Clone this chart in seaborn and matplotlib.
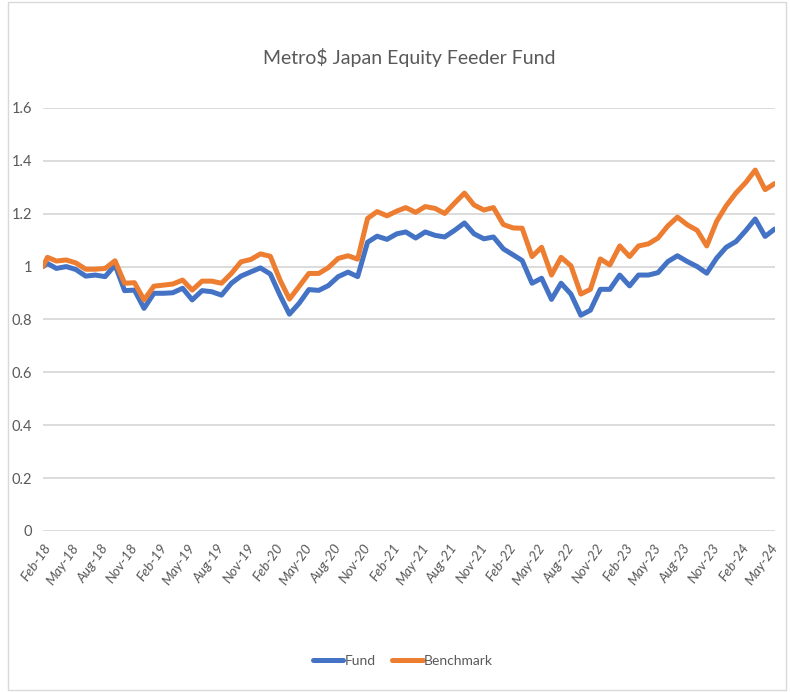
import pandas as pd
import matplotlib
matplotlib.use("Agg")
import matplotlib.pyplot as plt
import matplotlib.dates as mdates
import seaborn as sns

# month-by-month values (first point = launch at 1.0)
fund = [1.000,
        1.012, 0.993, 1.000, 0.989, 0.964, 0.968, 0.962, 1.006, 0.909, 0.911, 0.842, 0.899,
        0.899, 0.901, 0.918, 0.874, 0.909, 0.905, 0.892, 0.937, 0.964, 0.980, 0.995, 0.972,
        0.890, 0.820, 0.862, 0.913, 0.910, 0.928, 0.962, 0.979, 0.962, 1.092, 1.115, 1.103,
        1.124, 1.131, 1.108, 1.131, 1.118, 1.112, 1.137, 1.165, 1.124, 1.105, 1.112, 1.067,
        1.044, 1.023, 0.937, 0.956, 0.876, 0.937, 0.896, 0.816, 0.835, 0.914, 0.914, 0.968,
        0.927, 0.968, 0.968, 0.977, 1.019, 1.041, 1.019, 1.000, 0.975, 1.032, 1.073, 1.095,
        1.137, 1.180, 1.114, 1.142]
benchmark = [1.000,
             1.035, 1.021, 1.025, 1.014, 0.990, 0.990, 0.993, 1.022, 0.937, 0.939, 0.874, 0.926,
             0.930, 0.934, 0.949, 0.911, 0.945, 0.945, 0.937, 0.974, 1.018, 1.027, 1.048, 1.039,
             0.948, 0.877, 0.926, 0.974, 0.974, 0.996, 1.031, 1.041, 1.028, 1.182, 1.208, 1.192,
             1.210, 1.223, 1.205, 1.227, 1.220, 1.201, 1.240, 1.278, 1.233, 1.214, 1.223, 1.159,
             1.146, 1.145, 1.038, 1.073, 0.968, 1.035, 1.003, 0.896, 0.914, 1.029, 1.006, 1.078,
             1.038, 1.078, 1.086, 1.108, 1.154, 1.187, 1.158, 1.137, 1.078, 1.171, 1.230, 1.279,
             1.319, 1.365, 1.291, 1.314]

dates = [pd.Timestamp("2018-02-01")] + list(
    pd.date_range("2018-02-01", periods=76, freq="MS") + pd.Timedelta(days=14))

df = pd.DataFrame({"date": dates, "Fund": fund, "Benchmark": benchmark})
long_df = df.melt(id_vars="date", var_name="series", value_name="value")

sns.set_style("white")
plt.rcParams["font.family"] = ["Lato", "DejaVu Sans"]
grey = "#595959"

fig = plt.figure(figsize=(7.9, 6.92), dpi=100)
ax = fig.add_axes([0.0544, 0.2327, 0.9266, 0.6113])

sns.lineplot(data=long_df, x="date", y="value", hue="series",
             palette={"Fund": "#4472C4", "Benchmark": "#ED7D31"},
             linewidth=3.6, ax=ax, legend=True)

ax.set_ylim(0, 1.6)
ax.set_yticks([0, 0.2, 0.4, 0.6, 0.8, 1, 1.2, 1.4, 1.6])
ax.set_yticklabels(["0", "0.2", "0.4", "0.6", "0.8", "1", "1.2", "1.4", "1.6"])
ax.set_xlim(pd.Timestamp("2018-02-01"), pd.Timestamp("2024-05-16"))
ax.xaxis.set_major_locator(mdates.MonthLocator(bymonth=[2, 5, 8, 11]))
ax.xaxis.set_major_formatter(mdates.DateFormatter("%b-%y"))
plt.setp(ax.get_xticklabels(), rotation=55, ha="right", rotation_mode="anchor",
         fontsize=10, style="italic")

ax.grid(axis="y", color="#D9D9D9", linewidth=1.3)
ax.grid(axis="x", visible=False)
ax.set_axisbelow(True)
for s in ax.spines.values():
    s.set_visible(False)
ax.tick_params(axis="y", labelsize=10.5)
ax.tick_params(axis="both", length=0, colors=grey, pad=8)
ax.set_xlabel("")
ax.set_ylabel("")

ax.set_title("Metro$ Japan Equity Feeder Fund", fontsize=14, color=grey, pad=32)

leg = ax.legend(loc="center", bbox_to_anchor=(0.51, 0.045), bbox_transform=fig.transFigure,
                ncol=2, frameon=False, fontsize=10, handlelength=2.2,
                handletextpad=0.1, columnspacing=1.2)
for t in leg.get_texts():
    t.set_color(grey)

# chart area border
fig.patches.append(plt.Rectangle((0.01, 0.003), 0.985, 0.994, transform=fig.transFigure,
                                 fill=False, edgecolor="#D9D9D9", linewidth=1))

fig.savefig("out.png", dpi=100)
